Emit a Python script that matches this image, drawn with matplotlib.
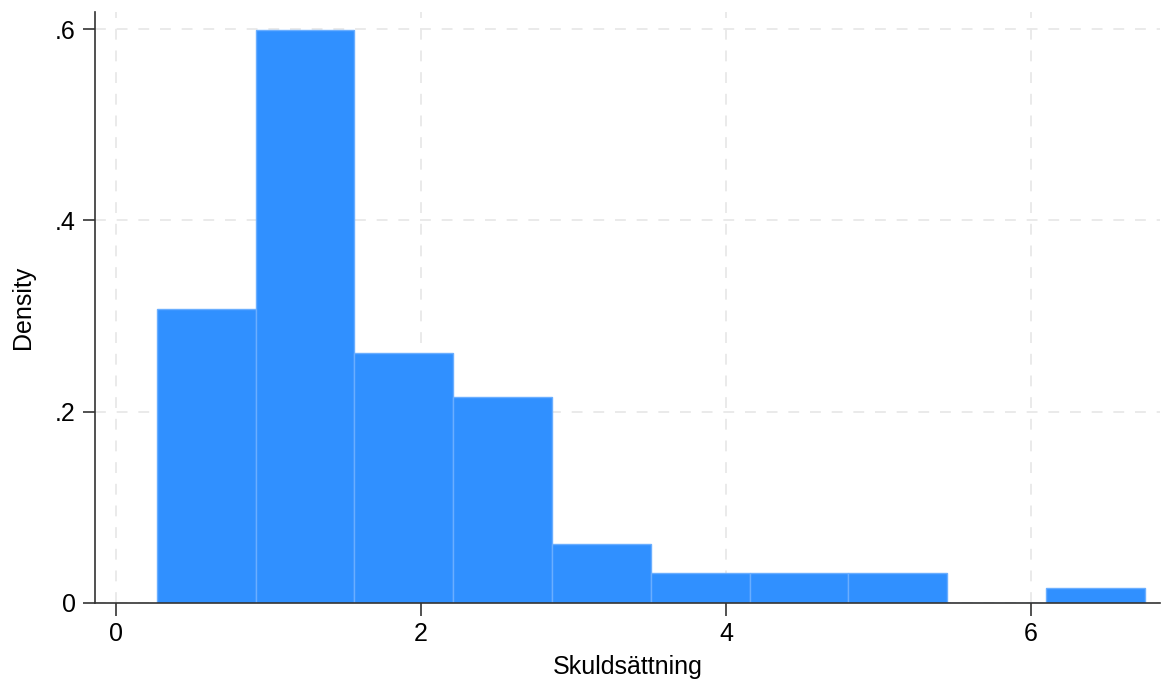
import numpy as np
import matplotlib
matplotlib.use('Agg')
from matplotlib import pyplot as plt

# histogram bins (Skuldsättning) and density per bin
bin_edges = [0.269, 0.918, 1.563, 2.210, 2.859, 3.508, 4.157, 4.802, 5.449, 6.098, 6.748]
density = [0.3074, 0.5990, 0.2614, 0.2154, 0.0617, 0.0314, 0.0314, 0.0314, 0.0, 0.0157]
xticks = [0, 2, 4, 6]
yticks = [0, 0.2, 0.4, 0.6]
ylabels = ['0', '.2', '.4', '.6']

plt.rcParams['font.family'] = ['Liberation Sans', 'DejaVu Sans']

fig = plt.figure(figsize=(11.71, 6.82), dpi=100)
ax = fig.add_axes([95/1171, 1 - 603/682, (1160-95)/1171, (603-12)/682])

centers = [(a + b) / 2 for a, b in zip(bin_edges[:-1], bin_edges[1:])]
ax.hist(centers, bins=bin_edges, weights=density, color='#3090ff',
        edgecolor='#6aaeff', linewidth=1.0, zorder=2)

ax.set_xlim(-0.138, 6.846)
ax.set_ylim(0, 0.618)
ax.set_xticks(xticks)
ax.set_yticks(yticks)
ax.set_yticklabels(ylabels)
ax.grid(True, color='#e8e8e8', linestyle=(0, (6, 6)), linewidth=1.3, zorder=0)
ax.set_axisbelow(True)

for s in ['top', 'right']:
    ax.spines[s].set_visible(False)
for s in ['left', 'bottom']:
    ax.spines[s].set_color('#333333')
    ax.spines[s].set_linewidth(1.2)
ax.tick_params(length=9, width=1.2, color='#333333', labelsize=18, pad=5)
ax.set_xlabel('Skuldsättning', fontsize=18, labelpad=6)
ax.set_ylabel('Density', fontsize=18, labelpad=14)

fig.savefig('out.png', dpi=100)
